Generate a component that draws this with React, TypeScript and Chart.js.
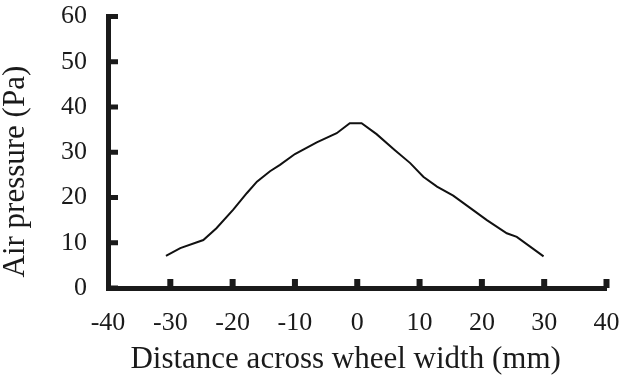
import React, { useEffect, useRef } from 'react';
import { Chart, registerables } from 'chart.js';

Chart.register(...registerables);

// Distance across wheel width (mm) and measured air pressure (Pa)
const distanceMm = [-30.7, -28.4, -24.7, -22.6, -19.9, -17.7, -16.1, -14.0, -12.4, -10.0, -6.5, -3.3, -1.2, 0.7, 3.1, 6.0, 8.5, 10.6, 12.8, 15.4, 18.6, 20.8, 24.0, 25.6, 29.9];
const airPressurePa = [7.1, 8.8, 10.6, 13.2, 17.3, 21.0, 23.5, 25.8, 27.2, 29.6, 32.2, 34.2, 36.4, 36.4, 34.0, 30.5, 27.6, 24.6, 22.4, 20.4, 17.2, 15.0, 12.1, 11.3, 7.0];

const xTickValues = [-40, -30, -20, -10, 0, 10, 20, 30, 40];
const yTickValues = [0, 10, 20, 30, 40, 50, 60];

const xTitle = 'Distance across wheel width (mm)';
const yTitle = 'Air pressure (Pa)';

const INK = '#1a1a1a';
const SERIF = "'Liberation Serif', 'Times New Roman', serif";

const inwardTicks = {
  id: 'inwardTicks',
  afterDatasetsDraw(chart: any) {
    const { ctx, chartArea, scales } = chart;
    const xs = scales.x;
    const ys = scales.y;
    ctx.save();
    ctx.fillStyle = INK;
    xTickValues.forEach((v) => {
      if (v === xTickValues[0]) return;
      const px = xs.getPixelForValue(v);
      ctx.fillRect(px - 3, chartArea.bottom - 9, 6, 9);
    });
    yTickValues.forEach((v) => {
      const py = ys.getPixelForValue(v);
      ctx.fillRect(chartArea.left, py - 2.5, 10, 5);
    });
    ctx.restore();
  },
};

export default function App() {
  const canvasRef = useRef<HTMLCanvasElement | null>(null);

  useEffect(() => {
    if (!canvasRef.current) return;
    const points = distanceMm.map((x, i) => ({ x, y: airPressurePa[i] }));
    const chart = new Chart(canvasRef.current, {
      type: 'line',
      data: {
        datasets: [
          {
            data: points,
            borderColor: '#111',
            borderWidth: 2,
            pointRadius: 0,
            tension: 0,
            fill: false,
          },
        ],
      },
      options: {
        animation: false,
        responsive: false,
        layout: { padding: { left: 0, right: 14.5, top: 16.5, bottom: 0 } },
        plugins: { legend: { display: false }, tooltip: { enabled: false } },
        scales: {
          x: {
            type: 'linear',
            min: -40,
            max: 40,
            afterBuildTicks: (scale: any) => {
              scale.ticks = xTickValues.map((value) => ({ value }));
            },
            afterFit: (scale: any) => {
              scale.height = 91;
              scale.paddingLeft = 0;
              scale.paddingRight = 0;
            },
            ticks: {
              stepSize: 10,
              autoSkip: false,
              maxRotation: 0,
              padding: 20,
              color: INK,
              font: { family: SERIF, size: 26 },
            },
            grid: { display: true, drawOnChartArea: false, drawTicks: false },
            border: { display: true, width: 5, color: INK },
            title: {
              display: true,
              text: xTitle + '   ',
              color: INK,
              font: { family: SERIF, size: 31 },
              padding: { top: 0, bottom: 1 },
            },
          },
          y: {
            type: 'linear',
            min: 0,
            max: 60,
            afterBuildTicks: (scale: any) => {
              scale.ticks = yTickValues.map((value) => ({ value }));
            },
            afterFit: (scale: any) => {
              scale.width = 108;
              scale.paddingTop = 0;
              scale.paddingBottom = 0;
            },
            ticks: {
              stepSize: 10,
              autoSkip: false,
              padding: 21,
              color: INK,
              font: { family: SERIF, size: 26 },
            },
            grid: { display: true, drawOnChartArea: false, drawTicks: false },
            border: { display: true, width: 5, color: INK },
            title: {
              display: true,
              text: yTitle + '     ',
              color: INK,
              font: { family: SERIF, size: 31, lineHeight: 1.0 },
              padding: 0,
            },
          },
        },
      },
      plugins: [inwardTicks],
    });
    return () => chart.destroy();
  }, []);

  return (
    <div style={{ position: 'fixed', left: 0, top: 0, width: 621, height: 379, background: '#fff' }}>
      <canvas ref={canvasRef} width={621} height={379} style={{ display: 'block' }} />
    </div>
  );
}
